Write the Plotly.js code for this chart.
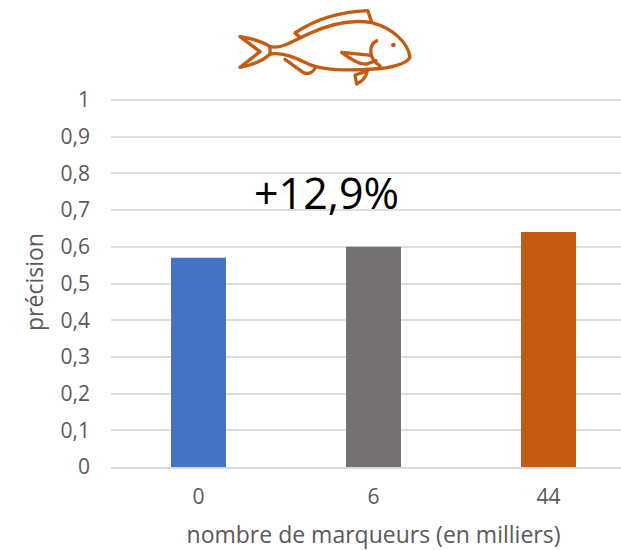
<!DOCTYPE html>
<html>
<head>
<meta charset="utf-8">
<script src="https://cdn.plot.ly/plotly-3.0.1.min.js"></script>
<style>
html,body{margin:0;padding:0;background:#fff;overflow:hidden;width:621px;height:550px}
</style>
</head>
<body>
<div id="chart"></div>
<script>
// Precision by number of markers
const markers = ['0', '6', '44'];
const precision = [0.57, 0.60, 0.64];
const barColors = ['#4472C4', '#767171', '#C55A11'];
const yTicks = [0, 0.1, 0.2, 0.3, 0.4, 0.5, 0.6, 0.7, 0.8, 0.9, 1];
const gainLabel = '+12,9%';

const FONT = '"Open Sans", sans-serif';
const W = 636, H = 550, L = 111, T = 97, PH = 370;

// Outline fish icon, drawn on a 630x285 grid
const fishSvg = `<svg xmlns="http://www.w3.org/2000/svg" width="630" height="285" viewBox="0 0 630 285">
<g fill="none" stroke="#C55A11" stroke-width="10" stroke-linecap="round" stroke-linejoin="round">
<path d="M150 140 C190 148 225 118 270 100 C340 68 400 58 455 68 C520 85 565 130 570 172 C560 192 510 205 460 207 C390 212 310 212 265 192 C235 178 190 155 150 162 Z"/>
<path d="M150 140 C125 122 90 115 60 110 L120 155 L60 202 C95 195 130 182 150 162"/>
<path d="M238 110 L225 99 C290 55 370 35 443 32 L455 66"/>
<path d="M195 178 L250 218 C265 224 278 218 285 205"/>
<path d="M470 122 C445 135 445 175 480 198"/>
<path d="M365 157 L455 166 M365 157 C395 180 420 195 440 192 L468 182"/>
<path d="M405 225 L442 213 C438 232 425 245 410 252 Z"/>
</g>
<circle cx="520" cy="135" r="7" fill="#C55A11"/>
</svg>`;

const data = [{
  type: 'bar',
  x: markers,
  y: precision,
  marker: {color: barColors, line: {width: 0}},
  hoverinfo: 'x+y'
}];

const layout = {
  width: W,
  height: H,
  margin: {l: L, r: 0, t: T, b: H - T - PH, pad: 0},
  paper_bgcolor: '#fff',
  plot_bgcolor: '#fff',
  showlegend: false,
  separators: ', ',
  bargap: 0.686,
  font: {family: FONT, color: '#595959', size: 21},
  xaxis: {
    type: 'category',
    range: [-0.5, 2.5],
    showgrid: false,
    showline: true,
    linecolor: '#D9D9D9',
    linewidth: 2,
    ticks: '',
    ticklabelstandoff: 10,
    tickfont: {size: 21, color: '#595959'},
    title: {text: 'nombre de marqueurs (en milliers)', font: {size: 23, color: '#595959'}, standoff: 19}
  },
  yaxis: {
    // Slightly above 1 so the gridline at 1 stays inside the plot
    range: [0, 1.00817],
    tickvals: yTicks,
    showgrid: true,
    gridcolor: '#DEDEDE',
    gridwidth: 2,
    zeroline: false,
    ticks: '',
    ticklabelstandoff: 20,
    tickfont: {size: 21, color: '#595959'},
    title: {text: 'précision', font: {size: 23, color: '#595959'}, standoff: 10}
  },
  annotations: [{
    text: gainLabel,
    xref: 'x', yref: 'paper',
    x: 0.73, y: 0.742,
    xanchor: 'center', yanchor: 'middle',
    showarrow: false,
    font: {family: FONT, size: 43, color: '#000'}
  }],
  images: [{
    source: 'data:image/svg+xml;charset=utf-8,' + encodeURIComponent(fishSvg),
    xref: 'paper', yref: 'paper',
    x: (220 - L) / (W - L),
    y: T / PH + 1,
    sizex: 210 / (W - L),
    sizey: 95 / PH,
    xanchor: 'left', yanchor: 'top',
    sizing: 'stretch',
    layer: 'above'
  }]
};

Plotly.newPlot('chart', data, layout, {displayModeBar: false, staticPlot: true});
</script>
</body>
</html>
